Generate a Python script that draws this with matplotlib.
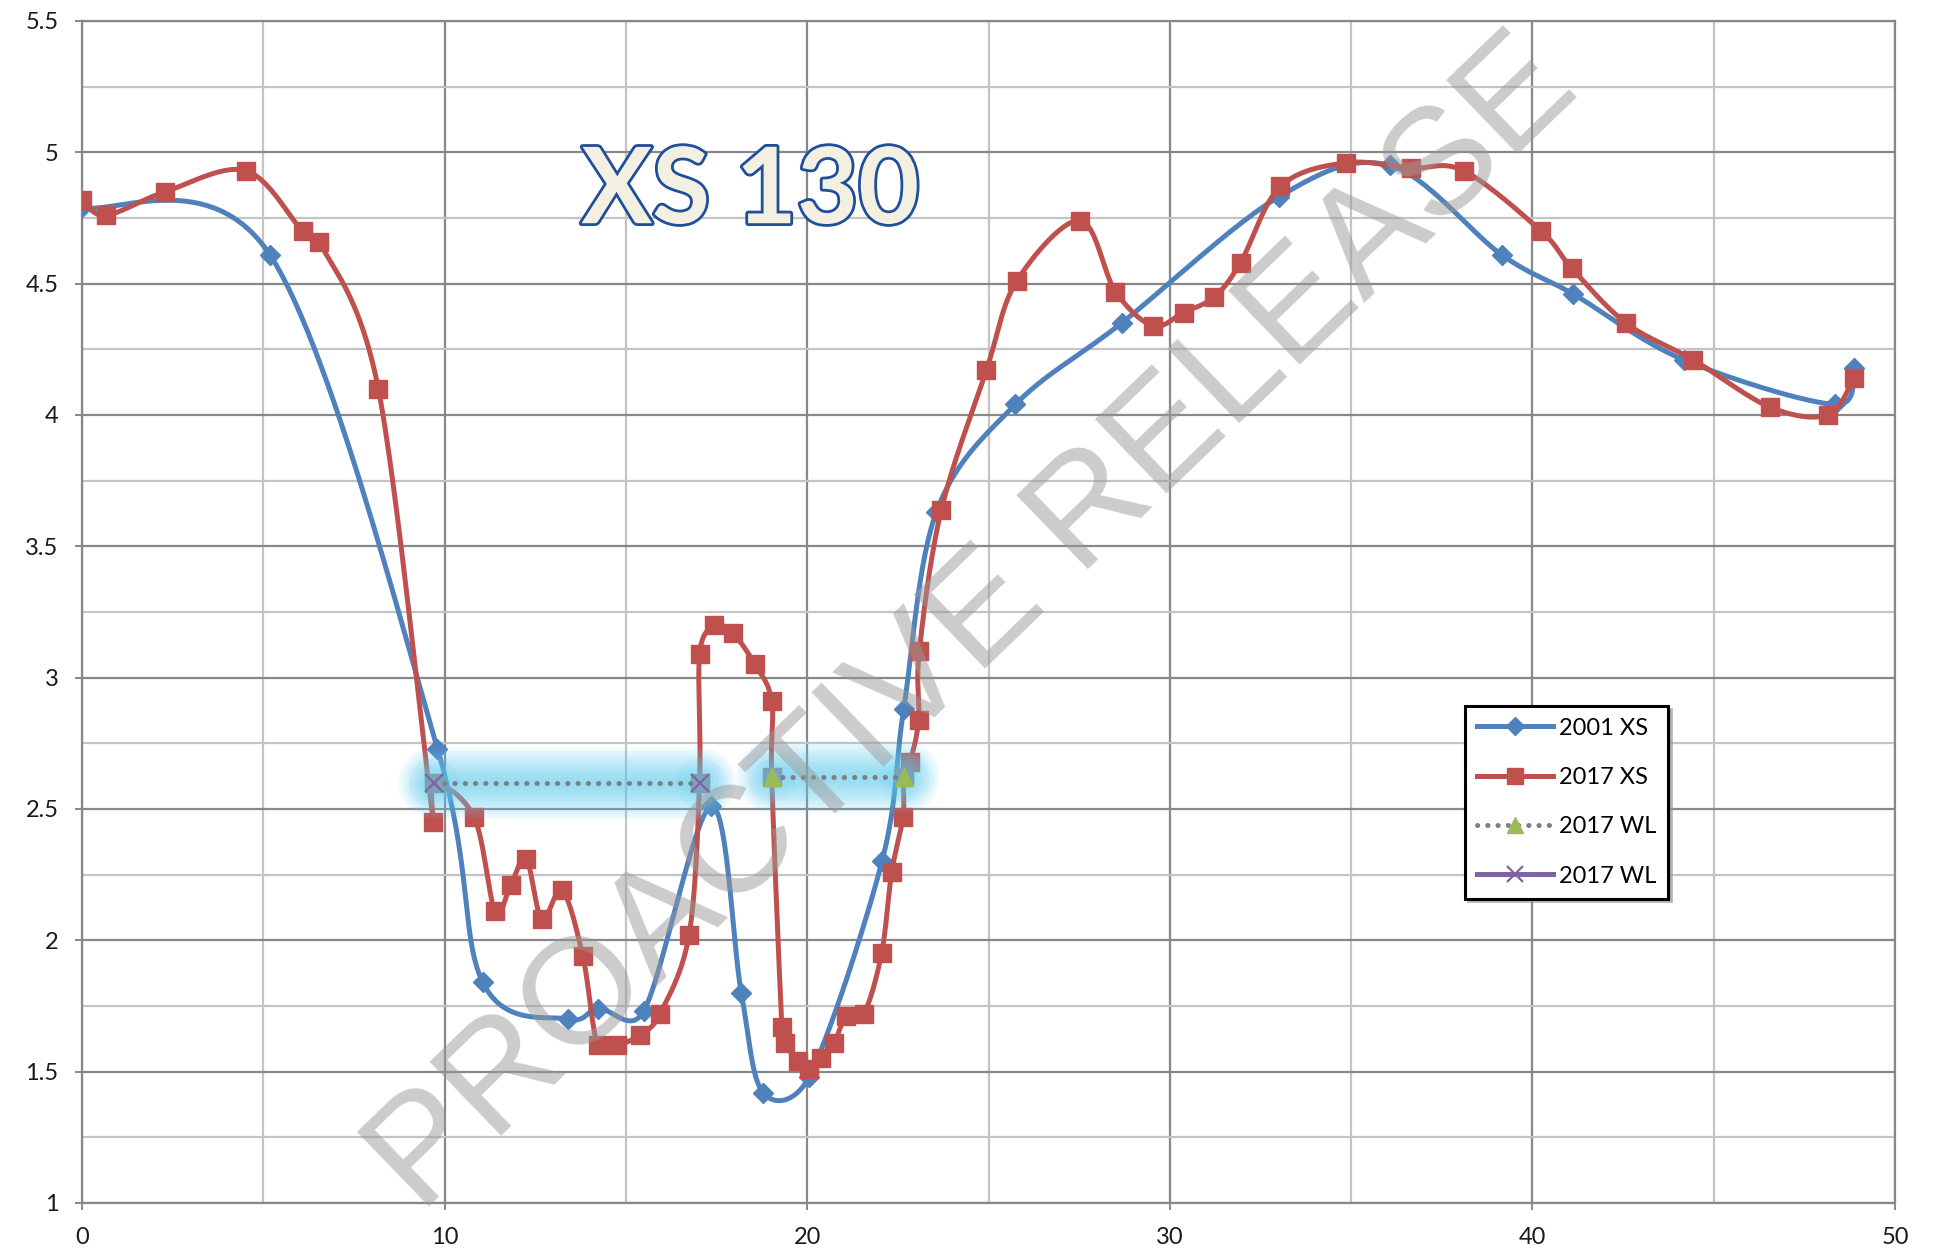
import numpy as np
import matplotlib
matplotlib.use("Agg")
import matplotlib.pyplot as plt
import matplotlib.patheffects as pe
from matplotlib.lines import Line2D
from matplotlib.ticker import MultipleLocator

# 2001 cross section
blue_x = [0, 5.18, 9.8, 11.05, 13.4, 14.24, 15.49, 17.35, 18.18, 18.78, 20.05, 22.06, 22.66, 23.56,
          25.74, 28.67, 33.0, 36.06, 39.15, 41.13, 44.17, 48.35, 48.87]
blue_y = [4.79, 4.61, 2.73, 1.84, 1.70, 1.74, 1.73, 2.51, 1.80, 1.42, 1.48, 2.30, 2.88, 3.63,
          4.04, 4.35, 4.83, 4.95, 4.61, 4.46, 4.21, 4.04, 4.18]

# 2017 cross section
red_x = [0, 0.65, 2.3, 4.52, 6.08, 6.54, 8.17, 9.69, 9.71, 10.81, 11.39, 11.82, 12.25, 12.68, 13.24,
         13.81, 14.22, 14.74, 15.39, 15.94, 16.74, 17.03, 17.03, 17.42, 17.94, 18.56, 19.02, 19.02,
         19.3, 19.38, 19.74, 20.06, 20.37, 20.74, 21.07, 21.56, 22.05, 22.33, 22.64, 22.66, 22.84,
         23.07, 23.09, 23.7, 24.94, 25.78, 27.52, 28.5, 29.53, 30.38, 31.23, 31.95, 33.05, 34.85,
         36.65, 38.1, 40.24, 41.08, 42.58, 44.43, 46.55, 48.14, 48.87]
red_y = [4.82, 4.76, 4.85, 4.93, 4.70, 4.66, 4.10, 2.45, 2.60, 2.47, 2.11, 2.21, 2.31, 2.08, 2.19,
         1.94, 1.60, 1.60, 1.64, 1.72, 2.02, 2.60, 3.09, 3.20, 3.17, 3.05, 2.91, 2.62,
         1.67, 1.61, 1.54, 1.51, 1.55, 1.61, 1.71, 1.72, 1.95, 2.26, 2.47, 2.62, 2.68,
         2.84, 3.10, 3.64, 4.17, 4.51, 4.74, 4.47, 4.34, 4.39, 4.45, 4.58, 4.87, 4.96,
         4.94, 4.93, 4.70, 4.56, 4.35, 4.21, 4.03, 4.00, 4.14]

# 2017 water levels
wl_tri_x = [19.02, 22.66]
wl_tri_y = [2.62, 2.62]
wl_x_x = [9.71, 17.03]
wl_x_y = [2.60, 2.60]

series_names = ["2001 XS", "2017 XS", "2017 WL", "2017 WL"]

BLUE = "#4f81bd"
RED = "#c0504d"
GREEN = "#9bbb59"
PURPLE = "#8064a2"
DOTS = "#7f7f7f"

# pixels per data unit, so the smoothing is done in screen space
SX, SY = 36.27, 262.7


def clamp(v, limit):
    n = np.hypot(*v)
    return v if n <= limit or n == 0 else v * limit / n


def smooth(xs, ys, n=30):
    # excel-like smoothed line: catmull-rom bezier, handles kept short on tiny segments
    pts = np.column_stack([np.array(xs) * SX, np.array(ys) * SY])
    P = np.vstack([pts[0], pts, pts[-1]])
    t = np.linspace(0, 1, n)[:, None]
    segs = []
    for i in range(1, len(P) - 2):
        p0, p1, p2, p3 = P[i - 1], P[i], P[i + 1], P[i + 2]
        lim = 0.6 * np.hypot(*(p2 - p1))
        c1 = p1 + clamp((p2 - p0) / 6, lim)
        c2 = p2 - clamp((p3 - p1) / 6, lim)
        segs.append((1 - t) ** 3 * p1 + 3 * (1 - t) ** 2 * t * c1 + 3 * (1 - t) * t ** 2 * c2 + t ** 3 * p2)
    s = np.vstack(segs)
    return s[:, 0] / SX, s[:, 1] / SY


fig = plt.figure(figsize=(19.45, 12.48), dpi=100)
ax = fig.add_axes([0.0422, 0.0361, 0.9321, 0.9471])

ax.set_xlim(0, 50)
ax.set_ylim(1, 5.5)
ax.xaxis.set_major_locator(MultipleLocator(10))
ax.xaxis.set_minor_locator(MultipleLocator(5))
ax.yaxis.set_minor_locator(MultipleLocator(0.25))
ax.set_yticks([1, 1.5, 2, 2.5, 3, 3.5, 4, 4.5, 5, 5.5])
ax.set_yticklabels(["1", "1.5", "2", "2.5", "3", "3.5", "4", "4.5", "5", "5.5"])
ax.grid(which="major", color="#888888", lw=1.6)
ax.grid(which="minor", color="#c4c4c4", lw=1.6)
ax.set_axisbelow(True)
for s in ax.spines.values():
    s.set_color("#888888")
    s.set_linewidth(1.6)
ax.tick_params(which="major", length=5, width=1.4, color="#888888", labelsize=17,
               labelcolor="#1a1a1a", pad=12)
ax.tick_params(which="minor", length=0)
for lab in ax.get_xticklabels() + ax.get_yticklabels():
    lab.set_fontfamily("Lato")

# cross sections
bx, by = smooth(blue_x, blue_y)
ax.plot(bx, by, color=BLUE, lw=3.6, zorder=3, solid_capstyle="round")
ax.plot(blue_x, blue_y, ls="none", marker="D", ms=10, color=BLUE, zorder=3)

rx, ry = smooth(red_x, red_y)
ax.plot(rx, ry, color=RED, lw=3.6, zorder=4, solid_capstyle="round")
ax.plot(red_x, red_y, ls="none", marker="s", ms=13, color=RED, zorder=4)

# soft glow around water level lines
glow_widths = np.linspace(52, 6, 14)
for gx, gy in [(wl_x_x, wl_x_y), (wl_tri_x, wl_tri_y)]:
    for w in glow_widths:
        ax.plot(gx, gy, color="#5fd0f2", lw=w, alpha=0.065, solid_capstyle="round", zorder=5)
    for w in [36, 26, 16]:
        ax.plot(gx, gy, ls="none", marker="o", ms=w, color="#5fd0f2", alpha=0.09, mew=0, zorder=5)

ax.plot(wl_tri_x, wl_tri_y, color=DOTS, lw=3.6, ls=(0, (0.05, 2.0)), dash_capstyle="round", zorder=6)
ax.plot(wl_tri_x, wl_tri_y, ls="none", marker="^", ms=13, color=GREEN, zorder=7)
ax.plot(wl_x_x, wl_x_y, color=DOTS, lw=3.6, ls=(0, (0.05, 2.0)), dash_capstyle="round", zorder=6)
ax.plot(wl_x_x, wl_x_y, ls="none", marker="x", ms=13, mew=1.6, color=PURPLE, zorder=7)

# title
ax.text(18.43, 4.73, "XS 130", fontsize=76, fontfamily="Lato", fontweight="bold",
        color="#f3f0e2", ha="center", va="baseline", zorder=8,
        path_effects=[pe.Stroke(linewidth=4, foreground="#1f4e9a"), pe.Normal()])

# legend
handles = [
    Line2D([], [], color=BLUE, lw=3.6, marker="D", ms=9),
    Line2D([], [], color=RED, lw=3.6, marker="s", ms=12),
    Line2D([], [], color=DOTS, lw=3.6, ls=(0, (0.05, 2.0)), dash_capstyle="round",
           marker="^", ms=12, mfc=GREEN, mec=GREEN),
    Line2D([], [], color=PURPLE, lw=3.6, marker="x", ms=12, mew=1.6),
]
leg = ax.legend(handles, series_names, loc="upper left", bbox_to_anchor=(0.763, 0.4205),
                prop={"family": "Lato", "size": 17}, frameon=True, fancybox=False,
                edgecolor="black", facecolor="white", framealpha=1, borderpad=0.5,
                labelspacing=1.2, handlelength=3.2, handletextpad=0.25, borderaxespad=0,
                shadow={"color": "#999999", "alpha": 0.6})
leg.get_frame().set_linewidth(2.2)
leg.set_zorder(9)

# watermark
ax.text(24.6, 3.2, "PROACTIVE RELEASE", fontsize=109, fontfamily="Liberation Sans",
        color="#999999", alpha=0.5, rotation=44, ha="center", va="center",
        rotation_mode="anchor", zorder=10)

fig.savefig("out.png", dpi=100)
